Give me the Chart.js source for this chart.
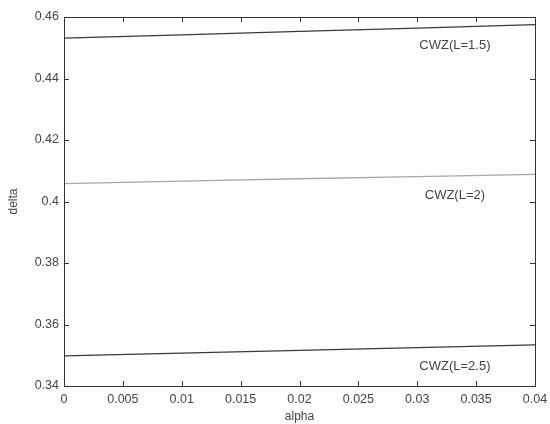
<!DOCTYPE html>
<html>
<head>
<meta charset="utf-8">
<script src="https://cdn.jsdelivr.net/npm/chart.js@4/dist/chart.umd.min.js"></script>
<style>
  html, body { margin: 0; padding: 0; background: #fff; }
  #wrap { width: 550px; height: 424px; }
</style>
</head>
<body>
<div id="wrap"><canvas id="chart" width="550" height="424"></canvas></div>
<script>
// values
const alpha = [0, 0.01, 0.02, 0.03, 0.04];
const deltaL15 = [0.4531, 0.4542, 0.4553, 0.4564, 0.4575];
const deltaL2 = [0.4058, 0.4066, 0.4074, 0.4081, 0.4088];
const deltaL25 = [0.3498, 0.3507, 0.3516, 0.3525, 0.3534];
const seriesNames = ["CWZ(L=1.5)", "CWZ(L=2)", "CWZ(L=2.5)"];
// where the text labels sit, in data units
const labelX = [0.0332, 0.0332, 0.0332];
const labelY = [0.4509, 0.4019, 0.3465];

const pts = (ys) => alpha.map((a, i) => ({ x: a, y: ys[i] }));
const colors = ["#3a3a3a", "#a8a8a8", "#3a3a3a"];
const FONT = "'Liberation Sans', Arial, sans-serif";

// matlab-like box with inward ticks + the curve labels
const boxPlugin = {
  id: "box",
  afterDatasetsDraw(chart) {
    const { ctx, chartArea: a, scales } = chart;
    ctx.save();
    ctx.strokeStyle = "#333";
    ctx.lineWidth = 1;
    ctx.strokeRect(a.left + 0.5, a.top + 0.5, a.right - a.left, a.bottom - a.top);
    const len = 5;
    ctx.beginPath();
    scales.x.ticks.forEach((t) => {
      const px = Math.round(scales.x.getPixelForValue(t.value)) + 0.5;
      ctx.moveTo(px, a.bottom); ctx.lineTo(px, a.bottom - len);
      ctx.moveTo(px, a.top); ctx.lineTo(px, a.top + len);
    });
    scales.y.ticks.forEach((t) => {
      const py = Math.round(scales.y.getPixelForValue(t.value)) + 0.5;
      ctx.moveTo(a.left, py); ctx.lineTo(a.left + len, py);
      ctx.moveTo(a.right, py); ctx.lineTo(a.right - len, py);
    });
    ctx.stroke();

    ctx.fillStyle = "#444";
    ctx.font = "13px " + FONT;
    ctx.textAlign = "center";
    ctx.textBaseline = "middle";
    seriesNames.forEach((name, i) => {
      ctx.fillText(name, scales.x.getPixelForValue(labelX[i]), scales.y.getPixelForValue(labelY[i]));
    });
    ctx.restore();
  },
};

new Chart(document.getElementById("chart"), {
  type: "line",
  data: {
    datasets: [
      { label: seriesNames[0], data: pts(deltaL15) },
      { label: seriesNames[1], data: pts(deltaL2) },
      { label: seriesNames[2], data: pts(deltaL25) },
    ].map((d, i) => ({
      ...d,
      borderColor: colors[i],
      borderWidth: 1.3,
      pointRadius: 0,
      tension: 0,
      fill: false,
    })),
  },
  options: {
    responsive: false,
    animation: false,
    layout: { padding: { left: 0, right: 15, top: 17, bottom: 0 } },
    plugins: { legend: { display: false }, tooltip: { enabled: false } },
    scales: {
      x: {
        type: "linear",
        min: 0,
        max: 0.04,
        grid: { display: false, drawTicks: false },
        border: { display: false },
        ticks: {
          stepSize: 0.005,
          padding: 6,
          color: "#444",
          font: { family: FONT, size: 12.5 },
          maxRotation: 0,
          callback: (v) => String(+v.toFixed(3)),
        },
        title: { display: true, text: "alpha", color: "#444", font: { family: FONT, size: 12 }, padding: { top: 0, bottom: 0 } },
        afterFit: (s) => { s.height = 38; s.paddingRight = 0; s.paddingLeft = 0; },
      },
      y: {
        min: 0.34,
        max: 0.46,
        grid: { display: false, drawTicks: false },
        border: { display: false },
        ticks: {
          stepSize: 0.02,
          padding: 5,
          color: "#444",
          font: { family: FONT, size: 12.5 },
          callback: (v) => String(+v.toFixed(2)),
        },
        title: { display: true, text: "delta", color: "#444", font: { family: FONT, size: 12 }, padding: { top: 6, bottom: 0 } },
        afterFit: (s) => { s.width = 64; s.paddingTop = 0; s.paddingBottom = 0; },
      },
    },
  },
  plugins: [boxPlugin],
});
</script>
</body>
</html>
